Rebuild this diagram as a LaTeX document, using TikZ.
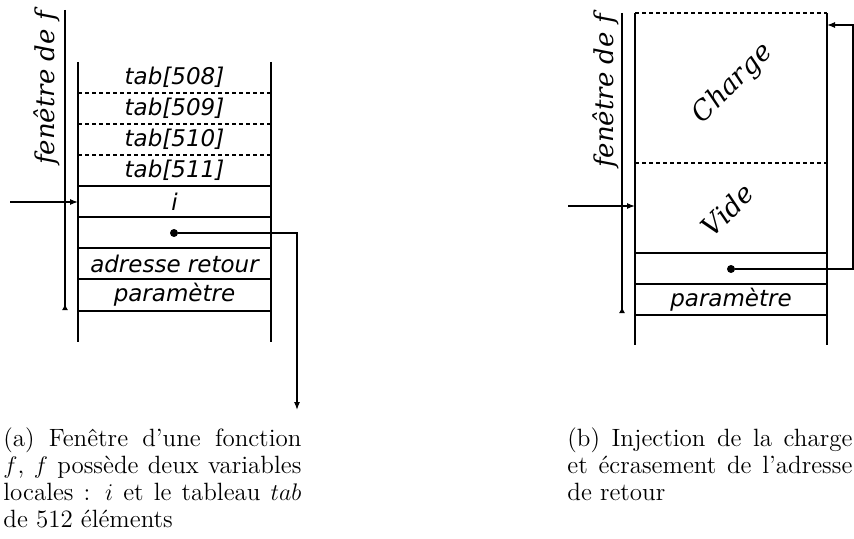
\documentclass[tikz,border=0pt]{standalone}
\usepackage{fontspec}
\usetikzlibrary{arrows.meta,positioning}
\newfontfamily\cellfont{DejaVu Sans}
\newfontfamily\zonefont{DejaVu Serif}

\begin{document}
\begin{tikzpicture}[
    x=0.5pt, y=-0.5pt,
    wall/.style={line width=0.6pt},
    dsep/.style={line width=0.6pt, dash pattern=on 2pt off 1.5pt},
    cell/.style={inner sep=0pt, font=\cellfont\itshape\fontsize{11.5}{13}\selectfont},
    winlabel/.style={inner sep=0pt, rotate=90, font=\zonefont\itshape\fontsize{13}{15}\selectfont},
    zone/.style={inner sep=0pt, rotate=45, font=\zonefont\itshape\fontsize{13.5}{16}\selectfont},
    dot/.style={circle, fill=black, inner sep=0pt, minimum size=4pt},
    arrow/.style={line width=0.6pt, -{Latex[length=4pt,width=3pt]}},
    winline/.style={line width=0.6pt, -{Latex[length=3pt,width=3pt,reversed]}},
    caption/.style={anchor=north west, align=left, inner sep=0pt, font=\fontsize{12.5}{13.5}\selectfont}
]
\useasboundingbox (0,0) rectangle (854,539);

% (a) stack frame of f
\coordinate (winTopA) at (65,10);
\coordinate (winBotA) at (65,310);
\draw[winline] (winTopA) -- (winBotA);
\node[winlabel] (winA) at (47,88) {fenêtre de f};

\draw[wall] (78,62) -- (78,342);
\draw[wall] (271,62) -- (271,342);
\foreach \y in {93,124,155}
    \draw[dsep] (78,\y) -- (271,\y);
\foreach \y in {186,217,248,279,311}
    \draw[wall] (78,\y) -- (271,\y);

\node[cell] (t508) at (174.5,77.5) {tab[508]};
\node[cell] (t509) at (174.5,108.5) {tab[509]};
\node[cell] (t510) at (174.5,139.5) {tab[510]};
\node[cell] (t511) at (174.5,170.5) {tab[511]};
\node[cell] (varI) at (174.5,201.5) {i};
\node[cell] (retAddrA) at (174.5,263.5) {adresse retour};
\node[cell] (paramA) at (174.5,295) {paramètre};

% stack pointer and saved frame pointer
\coordinate (spInA) at (10,202);
\coordinate (spA) at (78,202);
\draw[arrow] (spInA) -- (spA);
\node[dot] (fpA) at (174,233) {};
\coordinate (fpOutA) at (297,410);
\draw[arrow] (fpA) -| (fpOutA);

% (b) stack frame after the overflow
\coordinate (winTopB) at (622,13);
\coordinate (winBotB) at (622,313);
\draw[winline] (winTopB) -- (winBotB);
\node[winlabel] (winB) at (606,91) {fenêtre de f};

\draw[wall] (635,13) -- (635,345);
\draw[wall] (827,13) -- (827,345);
\draw[dsep] (635,13) -- (827,13);
\draw[dsep] (635,163) -- (827,163);
\foreach \y in {253,284,315}
    \draw[wall] (635,\y) -- (827,\y);

\node[zone] (charge) at (733,84) {Charge};
\node[zone] (vide) at (727,210) {Vide};
\node[cell] (paramB) at (731,299.5) {paramètre};

\coordinate (spInB) at (568,206);
\coordinate (spB) at (635,206);
\draw[arrow] (spInB) -- (spB);
\node[dot] (fpB) at (731,269) {};
\coordinate (bendB) at (853,269);
\coordinate (payloadB) at (827,25);
\draw[arrow] (fpB) -- (bendB) |- (payloadB);

% captions
\node[caption] (capA) at (3,427) {%
    \makebox[149pt][s]{(a) Fenêtre d'une fonction}\\
    \makebox[149pt][s]{$f$, $f$ possède deux variables}\\
    \makebox[149pt][s]{locales : $i$ et le tableau $tab$}\\
    de 512 éléments};
\node[caption] (capB) at (567,427) {%
    \makebox[142.5pt][s]{(b) Injection de la charge}\\
    \makebox[142.5pt][s]{et écrasement de l'adresse}\\
    de retour};

\end{tikzpicture}
\end{document}
